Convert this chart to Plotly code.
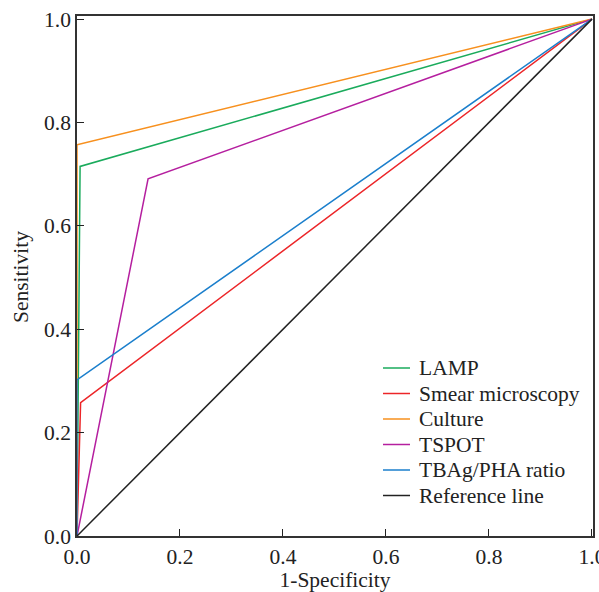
import plotly.graph_objects as go

names = ["LAMP", "Smear microscopy", "Culture", "TSPOT", "TBAg/PHA ratio", "Reference line"]
fpr = [
    [0.0, 0.006, 1.0],
    [0.0, 0.007, 1.0],
    [0.0, 0.0, 1.0],
    [0.0, 0.138, 1.0],
    [0.0, 0.0, 1.0],
    [0.0, 1.0],
]
tpr = [
    [0.0, 0.715, 1.0],
    [0.0, 0.258, 1.0],
    [0.0, 0.757, 1.0],
    [0.0, 0.691, 1.0],
    [0.0, 0.302, 1.0],
    [0.0, 1.0],
]
colors = ["#1aab5c", "#ec2528", "#f7901e", "#b51f9f", "#1b7fcc", "#222222"]
tick_vals = [0.0, 0.2, 0.4, 0.6, 0.8, 1.0]
tick_text = ["0.0", "0.2", "0.4", "0.6", "0.8", "1.0"]
x_title = "1-Specificity"
y_title = "Sensitivity"

W, H = 599, 592
ML, MR, MT, MB = 77, 6, 16, 56
PW, PH = W - ML - MR, H - MT - MB
FS = 21.5
font_family = "Liberation Serif, Times New Roman, serif"

fig = go.Figure()
for n, x, y, c in zip(names, fpr, tpr, colors):
    fig.add_trace(go.Scatter(x=x, y=y, mode="lines", name=n, showlegend=False,
                             line=dict(color=c, width=1.5)))

# legend drawn in paper coordinates (pixel layout converted)
leg_top, leg_gap = 368, 25.5
for i, (n, c) in enumerate(zip(names, colors)):
    py = leg_top + i * leg_gap
    yp = (MT + PH - py) / PH
    fig.add_shape(type="line", xref="paper", yref="paper",
                  x0=(383 - ML) / PW, x1=(410 - ML) / PW, y0=yp, y1=yp,
                  line=dict(color=c, width=1.5))
    fig.add_annotation(xref="paper", yref="paper", x=(417 - ML) / PW, y=yp,
                       xanchor="left", yanchor="middle", showarrow=False,
                       text=n, font=dict(family=font_family, size=FS, color="#222"))

# y-axis title
fig.add_annotation(xref="paper", yref="paper", x=(21 - ML) / PW, y=(MT + PH - 277) / PH,
                   xanchor="center", yanchor="middle", showarrow=False, textangle=-90,
                   text=y_title, font=dict(family=font_family, size=FS, color="#222"))

axis_common = dict(
    tickvals=tick_vals, ticktext=tick_text,
    ticks="inside", ticklen=7, tickwidth=1.2, tickcolor="#222",
    showline=True, linecolor="#333", linewidth=1.5, mirror=True,
    showgrid=False, zeroline=False, automargin=False,
    ticklabeloverflow="allow",
    tickfont=dict(family=font_family, size=FS, color="#222"),
)
fig.update_xaxes(range=[0, 1.002], title=dict(text=x_title,
                 font=dict(family=font_family, size=FS, color="#222")), **axis_common)
fig.update_yaxes(range=[0, 1.006], **axis_common)

fig.update_layout(
    width=W, height=H,
    margin=dict(l=ML, r=MR, t=MT, b=MB),
    plot_bgcolor="white", paper_bgcolor="white",
    showlegend=False,
)
fig.write_html("out.html", config={"displayModeBar": False},
               post_script="document.body.style.margin='0';document.body.style.overflow='hidden';")
